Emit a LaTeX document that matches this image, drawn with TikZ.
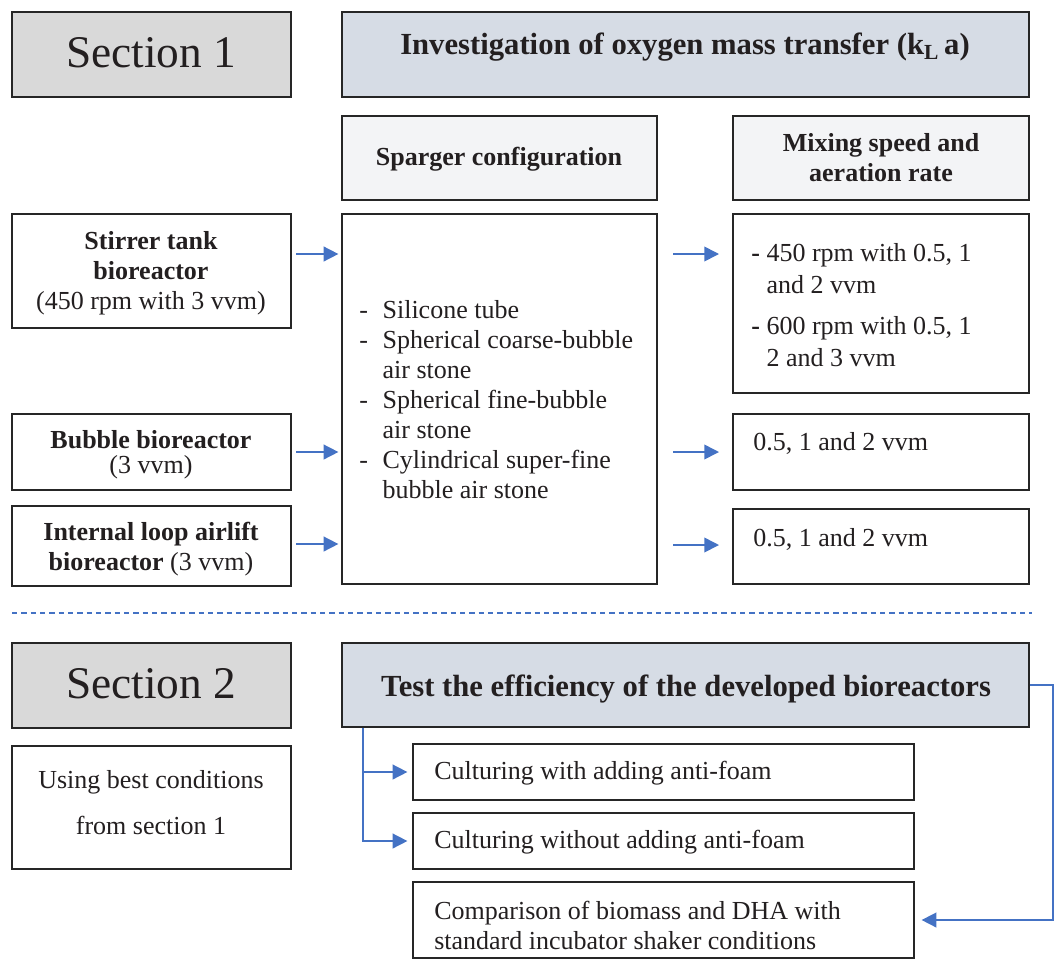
\documentclass[tikz,border=0pt]{standalone}
\usepackage{fontspec}
\setmainfont{Liberation Serif}
\usetikzlibrary{fit,arrows.meta}
\definecolor{bord}{HTML}{262626}
\definecolor{txt}{HTML}{231F20}
\definecolor{secfill}{HTML}{D9D9D9}
\definecolor{headfill}{HTML}{D6DCE5}
\definecolor{subfill}{HTML}{F3F4F6}
\definecolor{arrblue}{HTML}{4472C4}
\begin{document}
\begin{tikzpicture}[x=0.75pt,y=-0.75pt,
  box/.style={draw=bord, line width=1.4pt, inner sep=0pt, fill=white},
  body/.style={font=\fontsize{19.5}{22.5}\selectfont, inner sep=0pt, text=txt},
  bodyb/.style={font=\fontsize{19.5}{22.5}\selectfont\bfseries, inner sep=0pt, text=txt},
  sectxt/.style={font=\fontsize{34}{40}\selectfont, inner sep=0pt, text=txt},
  headtxt/.style={font=\fontsize{23}{27}\selectfont\bfseries, inner sep=0pt, text=txt},
  arr/.style={draw=arrblue, line width=1.2pt, -{Triangle[length=11pt,width=11pt]}},
]
\path[use as bounding box] (0,0) rectangle (1062,960);

% ---------- Section 1 ----------
\node[box, fill=secfill, fit={(12,12)(291,97)}] (s1) {};
\node[sectxt] (s1t) at (151,53) {Section 1};

\node[box, fill=headfill, fit={(342,12)(1029,97)}] (inv) {};
\node[headtxt] (invt) at (685,47) {Investigation of oxygen mass transfer (k\textsubscript{L}\,a)};

\node[box, fill=subfill, fit={(342,116)(657,200)}] (spg) {};
\node[bodyb] (spgt) at (499,159) {Sparger configuration};

\node[box, fill=subfill, fit={(733,116)(1029,200)}] (mix) {};
\node[bodyb, align=center] (mixt) at (881,158) {Mixing speed and\\aeration rate};

% left column
\node[box, fit={(12,214)(291,328)}] (str) {};
\node[body, align=center] (strt) at (151,273) {\textbf{Stirrer tank}\\\textbf{bioreactor}\\(450 rpm with 3 vvm)};

\node[box, fit={(12,414)(291,490)}] (bub) {};
\node[body, align=center] (bubt) at (151,455) {\textbf{Bubble bioreactor}\\[-3.5pt](3 vvm)};

\node[box, fit={(12,506)(291,586)}] (ilr) {};
\node[body, align=center] (ilrt) at (151,549) {\textbf{Internal loop airlift}\\\textbf{bioreactor} (3 vvm)};

% sparger list
\node[box, fit={(342,214)(657,584)}] (lst) {};
\node[body, anchor=west] (lstt) at (359,402) {%
\begin{tabular}{@{}l@{\hspace{11pt}}l@{}}
- & Silicone tube\\
- & Spherical coarse-bubble\\
  & air stone\\
- & Spherical fine-bubble\\
  & air stone\\
- & Cylindrical super-fine\\
  & bubble air stone
\end{tabular}};

% right column
\node[box, fit={(733,214)(1029,393)}] (r1) {};
\node[body, anchor=west] (r1t) at (751,308) {%
\begin{tabular}{@{}l@{\hspace{5pt}}l@{}}
\textbf{-} & 450 rpm with 0.5, 1\\[1.5pt]
  & and 2 vvm\\[8pt]
\textbf{-} & 600 rpm with 0.5, 1\\[1.5pt]
  & 2 and 3 vvm
\end{tabular}};

\node[box, fit={(733,414)(1029,490)}] (r2) {};
\node[body, anchor=west] (r2t) at (753,443) {0.5, 1 and 2 vvm};

\node[box, fit={(733,509)(1029,584)}] (r3) {};
\node[body, anchor=west] (r3t) at (753,539) {0.5, 1 and 2 vvm};

% arrows section 1
\coordinate (la1) at (296,254);
\coordinate (la2) at (296,452);
\coordinate (la3) at (296,544);
\draw[arr, shorten >=2pt] (la1) -- (la1 -| lst.west);
\draw[arr, shorten >=2pt] (la2) -- (la2 -| lst.west);
\draw[arr, shorten >=2pt] (la3) -- (la3 -| lst.west);

\coordinate (ra1s) at (673,254); \coordinate (ra1e) at (719,254);
\coordinate (ra2s) at (673,452); \coordinate (ra2e) at (719,452);
\coordinate (ra3s) at (673,545); \coordinate (ra3e) at (719,545);
\draw[arr] (ra1s) -- (ra1e);
\draw[arr] (ra2s) -- (ra2e);
\draw[arr] (ra3s) -- (ra3e);

% separator
\coordinate (dl) at (12,613);
\coordinate (dr) at (1032,613);
\draw[draw=arrblue, line width=0.8pt, dash pattern=on 4pt off 3pt] (dl) -- (dr);

% ---------- Section 2 ----------
\node[box, fill=secfill, fit={(12,643)(291,728)}] (s2) {};
\node[sectxt] (s2t) at (151,684) {Section 2};

\node[box, fit={(12,746)(291,869)}] (use) {};
\node[body, align=center] (uset) at (151,803) {Using best conditions\\[12pt]from section 1};

\node[box, fill=headfill, fit={(342,643)(1029,727)}] (tst) {};
\node[headtxt] (tstt) at (686,689) {Test the efficiency of the developed bioreactors};

\node[box, fit={(413,744)(914,800)}] (cw1) {};
\node[body, anchor=west] (cw1t) at (434,773) {Culturing with adding anti-foam};

\node[box, fit={(413,813)(914,869)}] (cw2) {};
\node[body, anchor=west] (cw2t) at (434,842) {Culturing without adding anti-foam};

\node[box, fit={(413,882)(914,958)}] (cmp) {};
\node[body, anchor=west, align=left] (cmpt) at (434,925) {Comparison of biomass and DHA with\\standard incubator shaker conditions};

% connectors section 2
\coordinate (vx) at (363,0);
\coordinate (rx) at (1053,0);
\draw[arr, shorten >=3.5pt] (tst.south -| vx) |- (cw1.west);
\draw[arr, shorten >=3.5pt] (tst.south -| vx) |- (cw2.west);
\draw[arr, shorten >=5pt] (tst.east) -- (tst.east -| rx) |- (cmp.east);
\end{tikzpicture}
\end{document}
